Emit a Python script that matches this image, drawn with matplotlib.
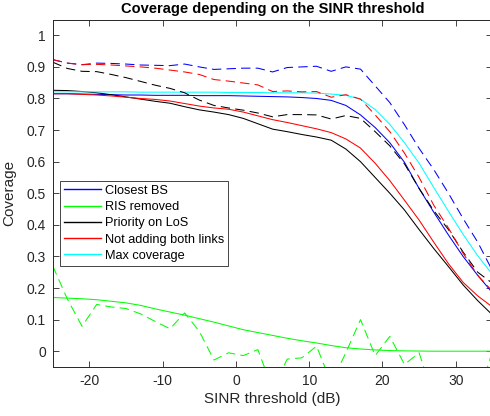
import numpy as np
import matplotlib
matplotlib.use("Agg")
import matplotlib.pyplot as plt

plt.rcParams['font.family'] = ['Liberation Sans', 'DejaVu Sans']
plt.rcParams['axes.unicode_minus'] = False

# --- Data ---
sinr_db = np.arange(-25, 36, 2)

closest_bs = [0.815, 0.815, 0.814, 0.813, 0.812, 0.811, 0.811, 0.810, 0.810, 0.810,
              0.809, 0.809, 0.809, 0.808, 0.807, 0.806, 0.805, 0.803, 0.800, 0.794,
              0.778, 0.748, 0.708, 0.660, 0.598, 0.515, 0.440, 0.368, 0.300, 0.240, 0.185]
closest_bs_dash = [0.923, 0.912, 0.907, 0.912, 0.911, 0.909, 0.906, 0.905, 0.904, 0.909,
                   0.900, 0.892, 0.894, 0.896, 0.896, 0.884, 0.898, 0.900, 0.902, 0.886,
                   0.900, 0.893, 0.840, 0.787, 0.717, 0.642, 0.575, 0.500, 0.420, 0.345, 0.255]

ris_removed = [0.170, 0.168, 0.166, 0.163, 0.158, 0.153, 0.145, 0.134, 0.124, 0.114,
               0.103, 0.092, 0.080, 0.068, 0.059, 0.050, 0.041, 0.033, 0.026, 0.018,
               0.011, 0.007, 0.004, 0.002, 0.001, 0.0005, 0.0, 0.0, 0.0, 0.0, 0.0]
ris_removed_dash = [0.270, 0.165, 0.079, 0.148, 0.140, 0.135, 0.118, 0.094, 0.071, 0.121,
                    0.063, -0.028, -0.005, -0.014, 0.005, -0.120, -0.025, -0.021, 0.016, -0.100,
                    -0.005, 0.100, -0.014, 0.047, -0.042, -0.005, -0.150, -0.200, -0.200, -0.150, 0.0]

priority_los = [0.826, 0.825, 0.822, 0.818, 0.812, 0.805, 0.798, 0.791, 0.785, 0.774,
                0.764, 0.757, 0.749, 0.737, 0.720, 0.703, 0.695, 0.686, 0.678, 0.668,
                0.640, 0.600, 0.550, 0.500, 0.447, 0.385, 0.325, 0.268, 0.210, 0.160, 0.115]
priority_los_dash = [0.915, 0.895, 0.886, 0.885, 0.876, 0.866, 0.854, 0.842, 0.832, 0.818,
                     0.795, 0.778, 0.770, 0.763, 0.754, 0.742, 0.749, 0.749, 0.748, 0.735,
                     0.746, 0.737, 0.695, 0.650, 0.593, 0.515, 0.445, 0.385, 0.314, 0.250, 0.215]

not_both = [0.815, 0.815, 0.813, 0.811, 0.808, 0.804, 0.800, 0.797, 0.792, 0.784,
            0.776, 0.770, 0.766, 0.757, 0.745, 0.733, 0.724, 0.714, 0.704, 0.692,
            0.672, 0.643, 0.595, 0.540, 0.478, 0.415, 0.345, 0.277, 0.218, 0.175, 0.140]
not_both_dash = [0.923, 0.912, 0.907, 0.908, 0.906, 0.903, 0.900, 0.896, 0.890, 0.884,
                 0.876, 0.860, 0.855, 0.849, 0.843, 0.822, 0.824, 0.821, 0.822, 0.804,
                 0.812, 0.798, 0.748, 0.695, 0.627, 0.550, 0.462, 0.390, 0.310, 0.240, 0.190]

max_coverage = [0.821, 0.821, 0.821, 0.821, 0.821, 0.821, 0.820, 0.820, 0.820, 0.820,
                0.820, 0.820, 0.819, 0.819, 0.819, 0.818, 0.818, 0.818, 0.817, 0.814,
                0.810, 0.798, 0.765, 0.718, 0.660, 0.595, 0.518, 0.443, 0.370, 0.302, 0.243]

labels = ['Closest BS', 'RIS removed', 'Priority on LoS', 'Not adding both links', 'Max coverage']
colors = ['#0000ff', '#00ff00', '#000000', '#ff0000', '#00ffff']
xticks = [-20, -10, 0, 10, 20, 30]
yticks = [0, 0.1, 0.2, 0.3, 0.4, 0.5, 0.6, 0.7, 0.8, 0.9, 1]
ytick_labels = ['0', '0.1', '0.2', '0.3', '0.4', '0.5', '0.6', '0.7', '0.8', '0.9', '1']

# --- Plot ---
fig = plt.figure(figsize=(4.9, 4.16), dpi=100)
ax = fig.add_axes([0.1076, 0.1178, 0.8973, 0.8353])

lw = 0.75
dash = (9, 5)
solid_series = [closest_bs, ris_removed, priority_los, not_both, max_coverage]
dash_series = [closest_bs_dash, ris_removed_dash, priority_los_dash, not_both_dash]

handles = []
for ys, c, lab in zip(solid_series, colors, labels):
    h, = ax.plot(sinr_db, ys, color=c, lw=lw, label=lab)
    handles.append(h)
for ys, c in zip(dash_series, colors[:4]):
    ax.plot(sinr_db, ys, color=c, lw=lw, linestyle=(0, dash))

ax.set_xlim(-25, 35)
ax.set_ylim(-0.05, 1.05)
ax.set_xticks(xticks)
ax.set_yticks(yticks)
ax.set_yticklabels(ytick_labels)

grey = '#262626'
ax.tick_params(direction='in', length=4, width=0.6, top=True, right=True,
               labelsize=10, colors=grey, labelcolor=grey, pad=5)
for sp in ax.spines.values():
    sp.set_color(grey)
    sp.set_linewidth(0.7)

ax.set_xlabel('SINR threshold (dB)', fontsize=11, color=grey, labelpad=3)
ax.set_ylabel('Coverage', fontsize=11, color=grey, labelpad=7)
ax.set_title('Coverage depending on the SINR threshold', fontsize=10.5,
             fontweight='bold', pad=5)

leg = ax.legend(handles=handles, loc='upper left', bbox_to_anchor=(0.0166, 0.535),
                borderaxespad=0, fontsize=9.2, fancybox=False, framealpha=1,
                edgecolor=grey, handlelength=2.9, labelspacing=0.33,
                handletextpad=0.3, borderpad=0.3)
leg.get_frame().set_linewidth(0.6)
for line in leg.get_lines():
    line.set_linewidth(1.0)

fig.savefig('out.png', dpi=100)
